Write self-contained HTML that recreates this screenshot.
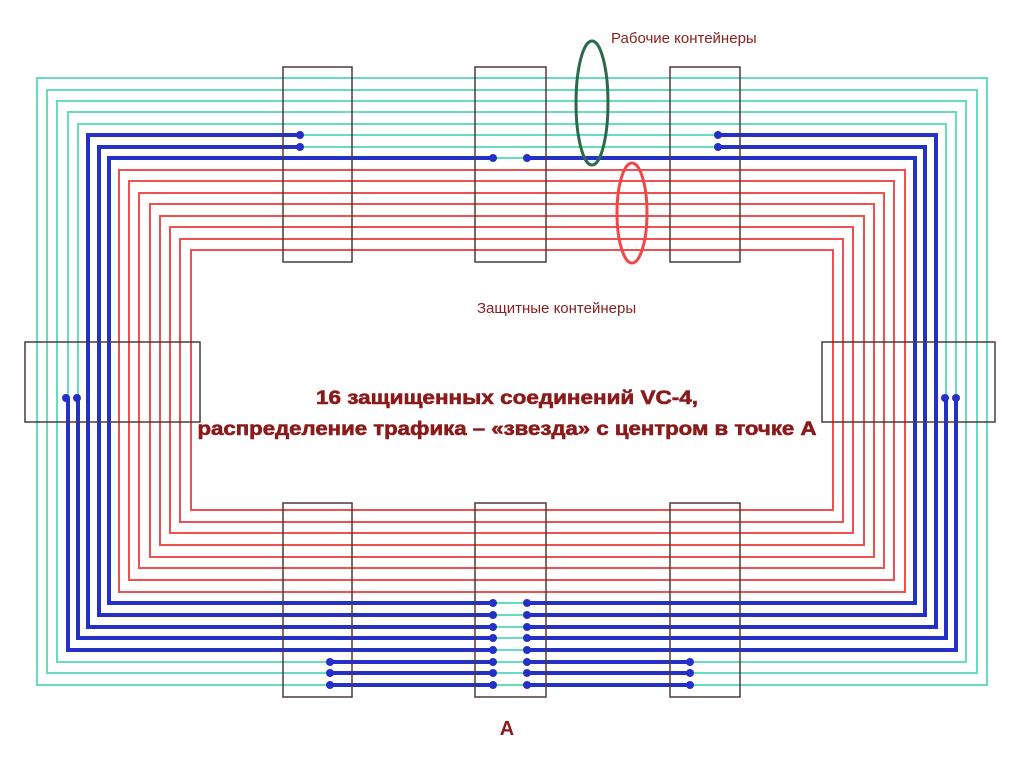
<!DOCTYPE html>
<html><head><meta charset="utf-8"><style>
html,body{margin:0;padding:0;background:#fff;width:1024px;height:767px;overflow:hidden}
svg{display:block}
text{font-family:"Liberation Sans",sans-serif}
</style></head><body>
<svg width="1024" height="767" viewBox="0 0 1024 767" xmlns="http://www.w3.org/2000/svg">
<g fill="none" stroke-width="2" stroke="#66dcc0">
<rect x="37" y="78" width="950" height="607"/>
<rect x="47" y="90" width="930" height="583"/>
<rect x="57" y="101" width="909" height="561"/>
<rect x="68" y="112" width="888" height="538"/>
<rect x="78" y="124" width="868" height="514"/>
<rect x="88" y="135" width="848" height="492"/>
<rect x="99" y="147" width="826" height="468"/>
<rect x="109" y="158" width="806" height="445"/>
</g>
<g fill="none" stroke-width="2" stroke="#f05050">
<rect x="119" y="170" width="786" height="422"/>
<rect x="129" y="181" width="765" height="399"/>
<rect x="139" y="193" width="745" height="375"/>
<rect x="150" y="204" width="724" height="353"/>
<rect x="160" y="216" width="704" height="329"/>
<rect x="170" y="227" width="683" height="306"/>
<rect x="180" y="239" width="663" height="283"/>
<rect x="191" y="250" width="642" height="260"/>
</g>
<g fill="none" stroke-width="4" stroke="#2530c8" stroke-linejoin="miter">
<path d="M68 398 V650 H493 M527 650 H956 V398"/>
<path d="M78 398 V638 H493 M527 638 H946 V398"/>
<path d="M300 135 H88 V627 H493 M527 627 H936 V135 H718"/>
<path d="M300 147 H99 V615 H493 M527 615 H925 V147 H718"/>
<path d="M493 158 H109 V603 H493 M527 603 H915 V158 H527"/>
<path d="M330 685 H493 M527 685 H690 M330 673 H493 M527 673 H690 M330 662 H493 M527 662 H690"/>
</g>
<g fill="#2530c8">
<circle cx="300" cy="135" r="4"/><circle cx="300" cy="147" r="4"/>
<circle cx="718" cy="135" r="4"/><circle cx="718" cy="147" r="4"/>
<circle cx="493" cy="158" r="4"/><circle cx="527" cy="158" r="4"/>
<circle cx="66" cy="398" r="4"/><circle cx="77" cy="398" r="4"/>
<circle cx="945" cy="398" r="4"/><circle cx="956" cy="398" r="4"/>
<circle cx="330" cy="662" r="4"/><circle cx="330" cy="673" r="4"/><circle cx="330" cy="685" r="4"/>
<circle cx="690" cy="662" r="4"/><circle cx="690" cy="673" r="4"/><circle cx="690" cy="685" r="4"/>
<circle cx="493" cy="603" r="4"/><circle cx="493" cy="615" r="4"/><circle cx="493" cy="627" r="4"/><circle cx="493" cy="638" r="4"/><circle cx="493" cy="650" r="4"/><circle cx="493" cy="662" r="4"/><circle cx="493" cy="673" r="4"/><circle cx="493" cy="685" r="4"/>
<circle cx="527" cy="603" r="4"/><circle cx="527" cy="615" r="4"/><circle cx="527" cy="627" r="4"/><circle cx="527" cy="638" r="4"/><circle cx="527" cy="650" r="4"/><circle cx="527" cy="662" r="4"/><circle cx="527" cy="673" r="4"/><circle cx="527" cy="685" r="4"/>
</g>
<g fill="none" stroke="#4a3a3a" stroke-width="1.5">
<rect x="283" y="67" width="69" height="195"/>
<rect x="475" y="67" width="71" height="195"/>
<rect x="670" y="67" width="70" height="195"/>
<rect x="283" y="503" width="69" height="194"/>
<rect x="475" y="503" width="71" height="194"/>
<rect x="670" y="503" width="70" height="194"/>
<rect x="25" y="342" width="175" height="80"/>
<rect x="822" y="342" width="173" height="80"/>
</g>
<ellipse cx="592" cy="103" rx="16" ry="62" fill="none" stroke="#2a6a4a" stroke-width="3"/>
<ellipse cx="632" cy="213" rx="15" ry="50" fill="none" stroke="#f04848" stroke-width="3"/>
<text x="611" y="43" font-size="15" fill="#8b2020">Рабочие контейнеры</text>
<text x="477" y="313" font-size="15" fill="#8b2020">Защитные контейнеры</text>
<text x="507" y="404" font-size="19" font-weight="bold" fill="#8b1a1a" stroke="#8b1a1a" stroke-width="0.6" text-anchor="middle" textLength="382" lengthAdjust="spacingAndGlyphs">16 защищенных соединений VC-4,</text>
<text x="507" y="435" font-size="19" font-weight="bold" fill="#8b1a1a" stroke="#8b1a1a" stroke-width="0.6" text-anchor="middle" textLength="619" lengthAdjust="spacingAndGlyphs">распределение трафика – «звезда» с центром в точке А</text>
<text x="507" y="735" font-size="20" font-weight="bold" fill="#8b1a1a" text-anchor="middle">A</text>
</svg>
</body></html>
